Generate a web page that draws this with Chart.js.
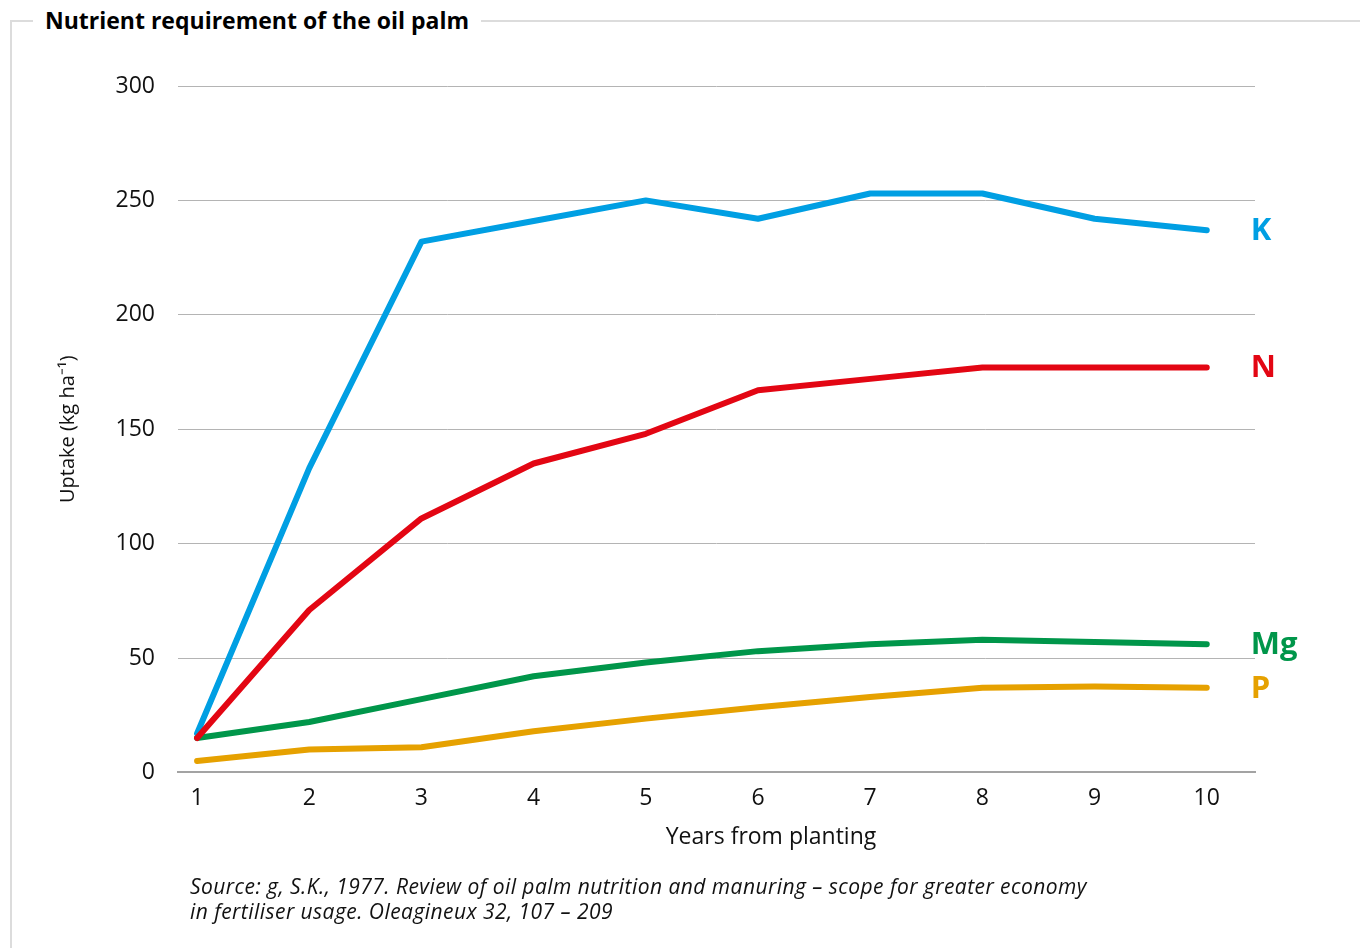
<!DOCTYPE html>
<html>
<head>
<meta charset="utf-8">
<script src="https://cdn.jsdelivr.net/npm/chart.js@4"></script>
<style>
  html, body { margin: 0; padding: 0; background: #fff; }
  body { width: 1360px; height: 948px; position: relative; overflow: hidden; font-family: "Open Sans", sans-serif; }
  #frame { position: absolute; left: 10px; top: 20px; width: 1400px; height: 1000px; border-left: 2px solid #dcdcdc; border-top: 2px solid #dcdcdc; }
  #title { position: absolute; left: 33px; top: 5px; padding: 0 12px; background: #fff; font-size: 23px; font-weight: 700; color: #000; line-height: 30px; }
  #chart { position: absolute; left: 0; top: 0; }
  #xtitle { position: absolute; left: 571px; width: 400px; top: 819px; text-align: center; font-size: 23px; color: #111; line-height: 32px; }
  #source { position: absolute; left: 190px; top: 874px; font-size: 21px; font-style: italic; color: #111; line-height: 25px; letter-spacing: 0.45px; }
</style>
</head>
<body>
<div id="frame"></div>
<div id="title">Nutrient requirement of the oil palm</div>
<canvas id="chart" width="1360" height="948"></canvas>
<div id="xtitle">Years from planting</div>
<div id="source">Source: g, S.K., 1977. Review of oil palm nutrition and manuring – scope for greater economy<br>in fertiliser usage. Oleagineux 32, 107 – 209</div>
<script>
const years = [1, 2, 3, 4, 5, 6, 7, 8, 9, 10];
const yTicks = [0, 50, 100, 150, 200, 250, 300];
const kUptake = [17, 133, 232, 241, 250, 242, 253, 253, 242, 237];
const nUptake = [15, 71, 111, 135, 148, 167, 172, 177, 177, 177];
const mgUptake = [15, 22, 32, 42, 48, 53, 56, 58, 57, 56];
const pUptake = [5, 10, 11, 18, 23.5, 28.5, 33, 37, 37.5, 37];

const seriesNames = ["K", "N", "Mg", "P"];
const seriesColors = ["#009fe3", "#e30613", "#00964a", "#e6a100"];
const font = "'Open Sans', sans-serif";

function points(values) {
  return values.map((v, i) => ({ x: years[i], y: v }));
}

// series name written at the end of each line
const endLabels = {
  id: "endLabels",
  afterDatasetsDraw(chart) {
    const ctx = chart.ctx;
    ctx.save();
    ctx.font = "bold 31px " + font;
    ctx.textBaseline = "middle";
    ctx.textAlign = "left";
    chart.data.datasets.forEach((ds, i) => {
      const meta = chart.getDatasetMeta(i);
      const last = meta.data[meta.data.length - 1];
      ctx.fillStyle = ds.borderColor;
      ctx.fillText(ds.label, last.x + 44, last.y + 1);
    });
    ctx.restore();
  }
};

const uptakes = [kUptake, nUptake, mgUptake, pUptake];
const order = [1, 0, 2, 3];

new Chart(document.getElementById("chart"), {
  type: "line",
  data: {
    datasets: uptakes.map((vals, i) => ({
      label: seriesNames[i],
      data: points(vals),
      borderColor: seriesColors[i],
      borderWidth: 6,
      pointRadius: 0,
      tension: 0,
      borderCapStyle: "round",
      borderJoinStyle: "round",
      order: order[i]
    }))
  },
  options: {
    responsive: false,
    animation: false,
    devicePixelRatio: 1,
    layout: { padding: { left: 48, right: 105, top: 86, bottom: 124 } },
    plugins: { legend: { display: false }, tooltip: { enabled: false } },
    scales: {
      x: {
        type: "linear",
        min: 0.83,
        max: 10.43,
        afterBuildTicks: (s) => { s.ticks = years.map((v) => ({ value: v })); },
        grid: { display: false, drawTicks: false },
        border: { display: true, color: "#a3a3a3", width: 2 },
        ticks: { color: "#111", font: { family: font, size: 23 }, padding: 12 }
      },
      y: {
        min: 0,
        max: 300,
        afterBuildTicks: (s) => { s.ticks = yTicks.map((v) => ({ value: v })); },
        afterFit: (s) => { s.width = 130; },
        grid: { color: "#b4b4b4", lineWidth: 1, drawTicks: false },
        border: { display: false },
        ticks: { color: "#111", font: { family: font, size: 23 }, padding: 23 },
        title: { display: true, text: "Uptake (kg ha⁻¹)", color: "#111", font: { family: font, size: 20 }, padding: 8 }
      }
    }
  },
  plugins: [endLabels]
});
</script>
</body>
</html>
